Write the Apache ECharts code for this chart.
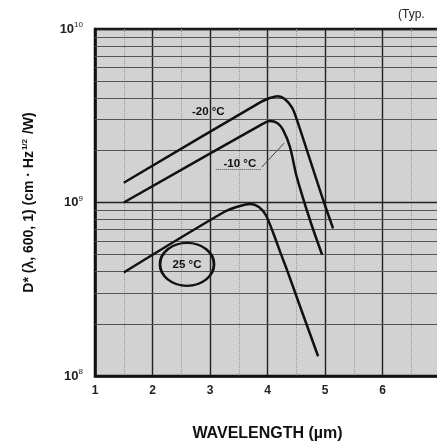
<!DOCTYPE html>
<html><head><meta charset="utf-8">
<script src="https://cdn.jsdelivr.net/npm/echarts@6/dist/echarts.min.js"></script>
<style>html,body{margin:0;padding:0;background:#fff;}#c{width:437px;height:446px;}</style>
</head><body><div id="c"></div>
<script>
// wavelength (µm) vs D* (cm·Hz^1/2/W)
const curveM20 = [[1.5,1.3e9],[3.88,3.79e9],[4.04,4.0e9],[4.18,4.1e9],[4.3,3.95e9],[4.43,3.51e9],[4.51,3.0e9],[4.74,1.76e9],[4.97,1.03e9],[5.14,7.1e8]];
const curveM10 = [[1.5,1.0e9],[3.9,2.82e9],[4.04,2.95e9],[4.17,2.87e9],[4.27,2.62e9],[4.39,2.09e9],[4.51,1.4e9],[4.74,7.9e8],[4.95,5.0e8]];
const curve25  = [[1.5,3.95e8],[3.26,8.87e8],[3.52,9.55e8],[3.7,9.79e8],[3.85,9.42e8],[3.97,8.47e8],[4.1,6.67e8],[4.22,5.19e8],[4.34,4.08e8],[4.57,2.5e8],[4.88,1.3e8]];
const seriesNames = ['-20 °C','-10 °C','25 °C'];
const labelPos = [[2.97,3.33e9],[3.52,1.68e9],[2.6,4.4e8]];
const xTicks = ['1','2','3','4','5','6'];
const minorGrid = [2e8,3e8,4e8,5e8,6e8,7e8,8e8,9e8,2e9,3e9,4e9,5e9,6e9,7e9,8e9,9e9];
const leader = [[[3.1,1.55e9],[3.9,1.55e9]],[[3.9,1.6e9],[4.29,2.2e9]]];

const chart = echarts.init(document.getElementById('c'));
const font = 'Liberation Sans, Arial, sans-serif';
const lineStyle = {color:'#111', width:2.5};
const txt = {fontFamily:font, fontSize:11.5, fontWeight:'bold', color:'#111'};
function curve(name, data, extra){
  return Object.assign({name, type:'line', data, showSymbol:false, symbol:'none', smooth:0.3,
    lineStyle, z:5, silent:true}, extra||{});
}
function tag(i, extra){
  return Object.assign({silent:true, symbol:'circle', symbolSize:1, itemStyle:{color:'rgba(0,0,0,0)'},
    data:[{coord:labelPos[i], value:seriesNames[i]}],
    label:Object.assign({show:true, position:'inside', formatter:seriesNames[i]}, txt)}, extra||{});
}
chart.setOption({
  animation:false,
  backgroundColor:'#fff',
  grid:{left:95, top:29, width:345, height:347, outerBoundsMode:'none', containLabel:false,
    show:true, backgroundColor:'#d2d2d2', borderColor:'#111', borderWidth:2.5},
  graphic:[{type:'text', left:398, top:9, style:{text:'(Typ.', font:'12px '+font, fill:'#222'}}],
  xAxis:{type:'value', min:1, max:7, interval:1,
    name:'WAVELENGTH (µm)', nameLocation:'middle', nameGap:50,
    nameTextStyle:{fontFamily:font, fontSize:16, fontWeight:'bold', color:'#111'},
    axisLine:{show:true, lineStyle:{color:'#111', width:2.5}},
    axisTick:{show:false},
    axisLabel:{margin:9, fontFamily:font, fontSize:12, fontWeight:'bold', color:'#222', showMaxLabel:false,
      formatter:v=>{const i=Math.round(v)-1; return xTicks[i]!==undefined?xTicks[i]:'';}},
    splitLine:{show:true, lineStyle:{color:'#222', width:1.4}},
    minorTick:{show:false, splitNumber:2},
    minorSplitLine:{show:true, lineStyle:{color:'#999', width:1, type:'dotted'}}
  },
  yAxis:{type:'log', logBase:10, min:1e8, max:1e10,
    name:'{n|D* (λ, 600, 1) (cm · Hz}{s|1/2}{n| /W)}', nameLocation:'middle', nameGap:58,
    nameTextStyle:{rich:{n:{fontFamily:font, fontSize:14, fontWeight:'bold', color:'#111'},
                         s:{fontFamily:font, fontSize:8, fontWeight:'bold', color:'#111', padding:[0,1,8,1]}}},
    axisLine:{show:true, lineStyle:{color:'#111', width:2.5}},
    axisTick:{show:false},
    axisLabel:{margin:12, formatter:v=>'{b|10}{s|'+Math.round(Math.log10(v))+'}',
      rich:{b:{fontFamily:font, fontSize:13, fontWeight:'bold', color:'#222'}, s:{fontFamily:font, fontSize:8, color:'#222', padding:[0,0,8,0]}}},
    splitLine:{show:true, lineStyle:{color:'#222', width:1.4}}
  },
  series:[
    curve(seriesNames[0], curveM20, {markPoint:tag(0)}),
    curve(seriesNames[1], curveM10, {markPoint:tag(1),
      markLine:{silent:true, symbol:['none','none'], label:{show:false},
        data:[[{coord:leader[0][0], lineStyle:{type:'dotted', width:1, color:'#555'}},{coord:leader[0][1]}],
              [{coord:leader[1][0], lineStyle:{type:'solid', width:1, color:'#444'}},{coord:leader[1][1]}]]}}),
    curve(seriesNames[2], curve25, {markPoint:tag(2, {symbol:'circle', symbolSize:[54,43],
      itemStyle:{color:'rgba(0,0,0,0)', borderColor:'#111', borderWidth:2.5}})}),
    {type:'line', data:[], silent:true, z:1,
      markLine:{silent:true, symbol:['none','none'], label:{show:false}, animation:false,
        lineStyle:{color:'#555', width:1, type:'solid'},
        data:minorGrid.map(v=>({yAxis:v}))}}
  ]
});
</script></body></html>
